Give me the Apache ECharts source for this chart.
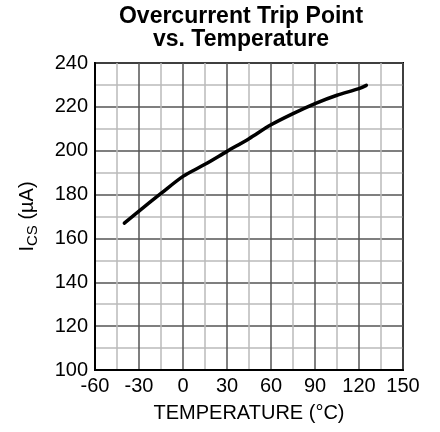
<!DOCTYPE html>
<html>
<head>
<meta charset="utf-8">
<script src="https://cdn.jsdelivr.net/npm/echarts@6/dist/echarts.min.js"></script>
<style>html,body{margin:0;padding:0;background:#fff}#c{width:440px;height:432px}</style>
</head>
<body>
<div id="c"></div>
<script>
const temperatures = [-40, -30, -15, 0, 15, 30, 45, 60, 75, 90, 105, 120, 125];
const icsValues = [167, 172.5, 180.5, 188.3, 193.8, 199.7, 205.5, 211.8, 216.9, 221.5, 225.3, 228.3, 229.8];
const xTicks = [-60, -30, 0, 30, 60, 90, 120, 150];
const yTicks = [100, 120, 140, 160, 180, 200, 220, 240];

const chart = echarts.init(document.getElementById('c'), null, {renderer: 'canvas'});
const FONT = '"Liberation Sans", Arial, sans-serif';
chart.setOption({
  animation: false,
  backgroundColor: '#fff',
  title: {
    text: 'Overcurrent Trip Point\nvs. Temperature',
    left: 241, top: 5, padding: 0, textAlign: 'center',
    textStyle: {fontFamily: FONT, fontWeight: 'bold', fontSize: 23, lineHeight: 23, color: '#000'}
  },
  grid: {left: 95, right: 37, top: 63, bottom: 62, show: true, borderColor: '#000', borderWidth: 2, backgroundColor: 'transparent'},
  xAxis: {
    type: 'value', min: xTicks[0], max: xTicks[xTicks.length - 1], interval: 30,
    name: 'TEMPERATURE (°C)', nameLocation: 'middle', nameGap: 33,
    nameTextStyle: {fontFamily: FONT, fontSize: 20, color: '#000'},
    axisLine: {show: true, onZero: false, lineStyle: {color: '#000', width: 2}},
    axisTick: {show: false},
    axisLabel: {fontFamily: FONT, fontSize: 20, color: '#000', margin: 6},
    splitLine: {show: true, lineStyle: {color: '#555', width: 1.5}},
    minorTick: {show: false, splitNumber: 2},
    minorSplitLine: {show: true, lineStyle: {color: '#bbb', width: 1.5}}
  },
  yAxis: {
    type: 'value', min: yTicks[0], max: yTicks[yTicks.length - 1], interval: 20,
    name: '{m|I}{s|CS}{m| (µA)}', nameLocation: 'middle', nameGap: 56, nameRotate: 90,
    nameTextStyle: {
      fontFamily: FONT, color: '#000',
      rich: {
        m: {fontFamily: FONT, fontSize: 20, color: '#000', lineHeight: 24, verticalAlign: 'middle'},
        s: {fontFamily: FONT, fontSize: 15, color: '#000', verticalAlign: 'top', padding: [10, 0, 0, 0], lineHeight: 15}
      }
    },
    axisLine: {show: true, onZero: false, lineStyle: {color: '#000', width: 2}},
    axisTick: {show: false},
    axisLabel: {fontFamily: FONT, fontSize: 20, color: '#000', margin: 7},
    splitLine: {show: true, lineStyle: {color: '#555', width: 1.5}},
    minorTick: {show: false, splitNumber: 2},
    minorSplitLine: {show: true, lineStyle: {color: '#bbb', width: 1.5}}
  },
  series: [{
    type: 'line',
    data: temperatures.map((t, i) => [t, icsValues[i]]),
    smooth: 0.3,
    symbol: 'none',
    lineStyle: {color: '#000', width: 3.5, cap: 'round'}
  }]
});
</script>
</body>
</html>
